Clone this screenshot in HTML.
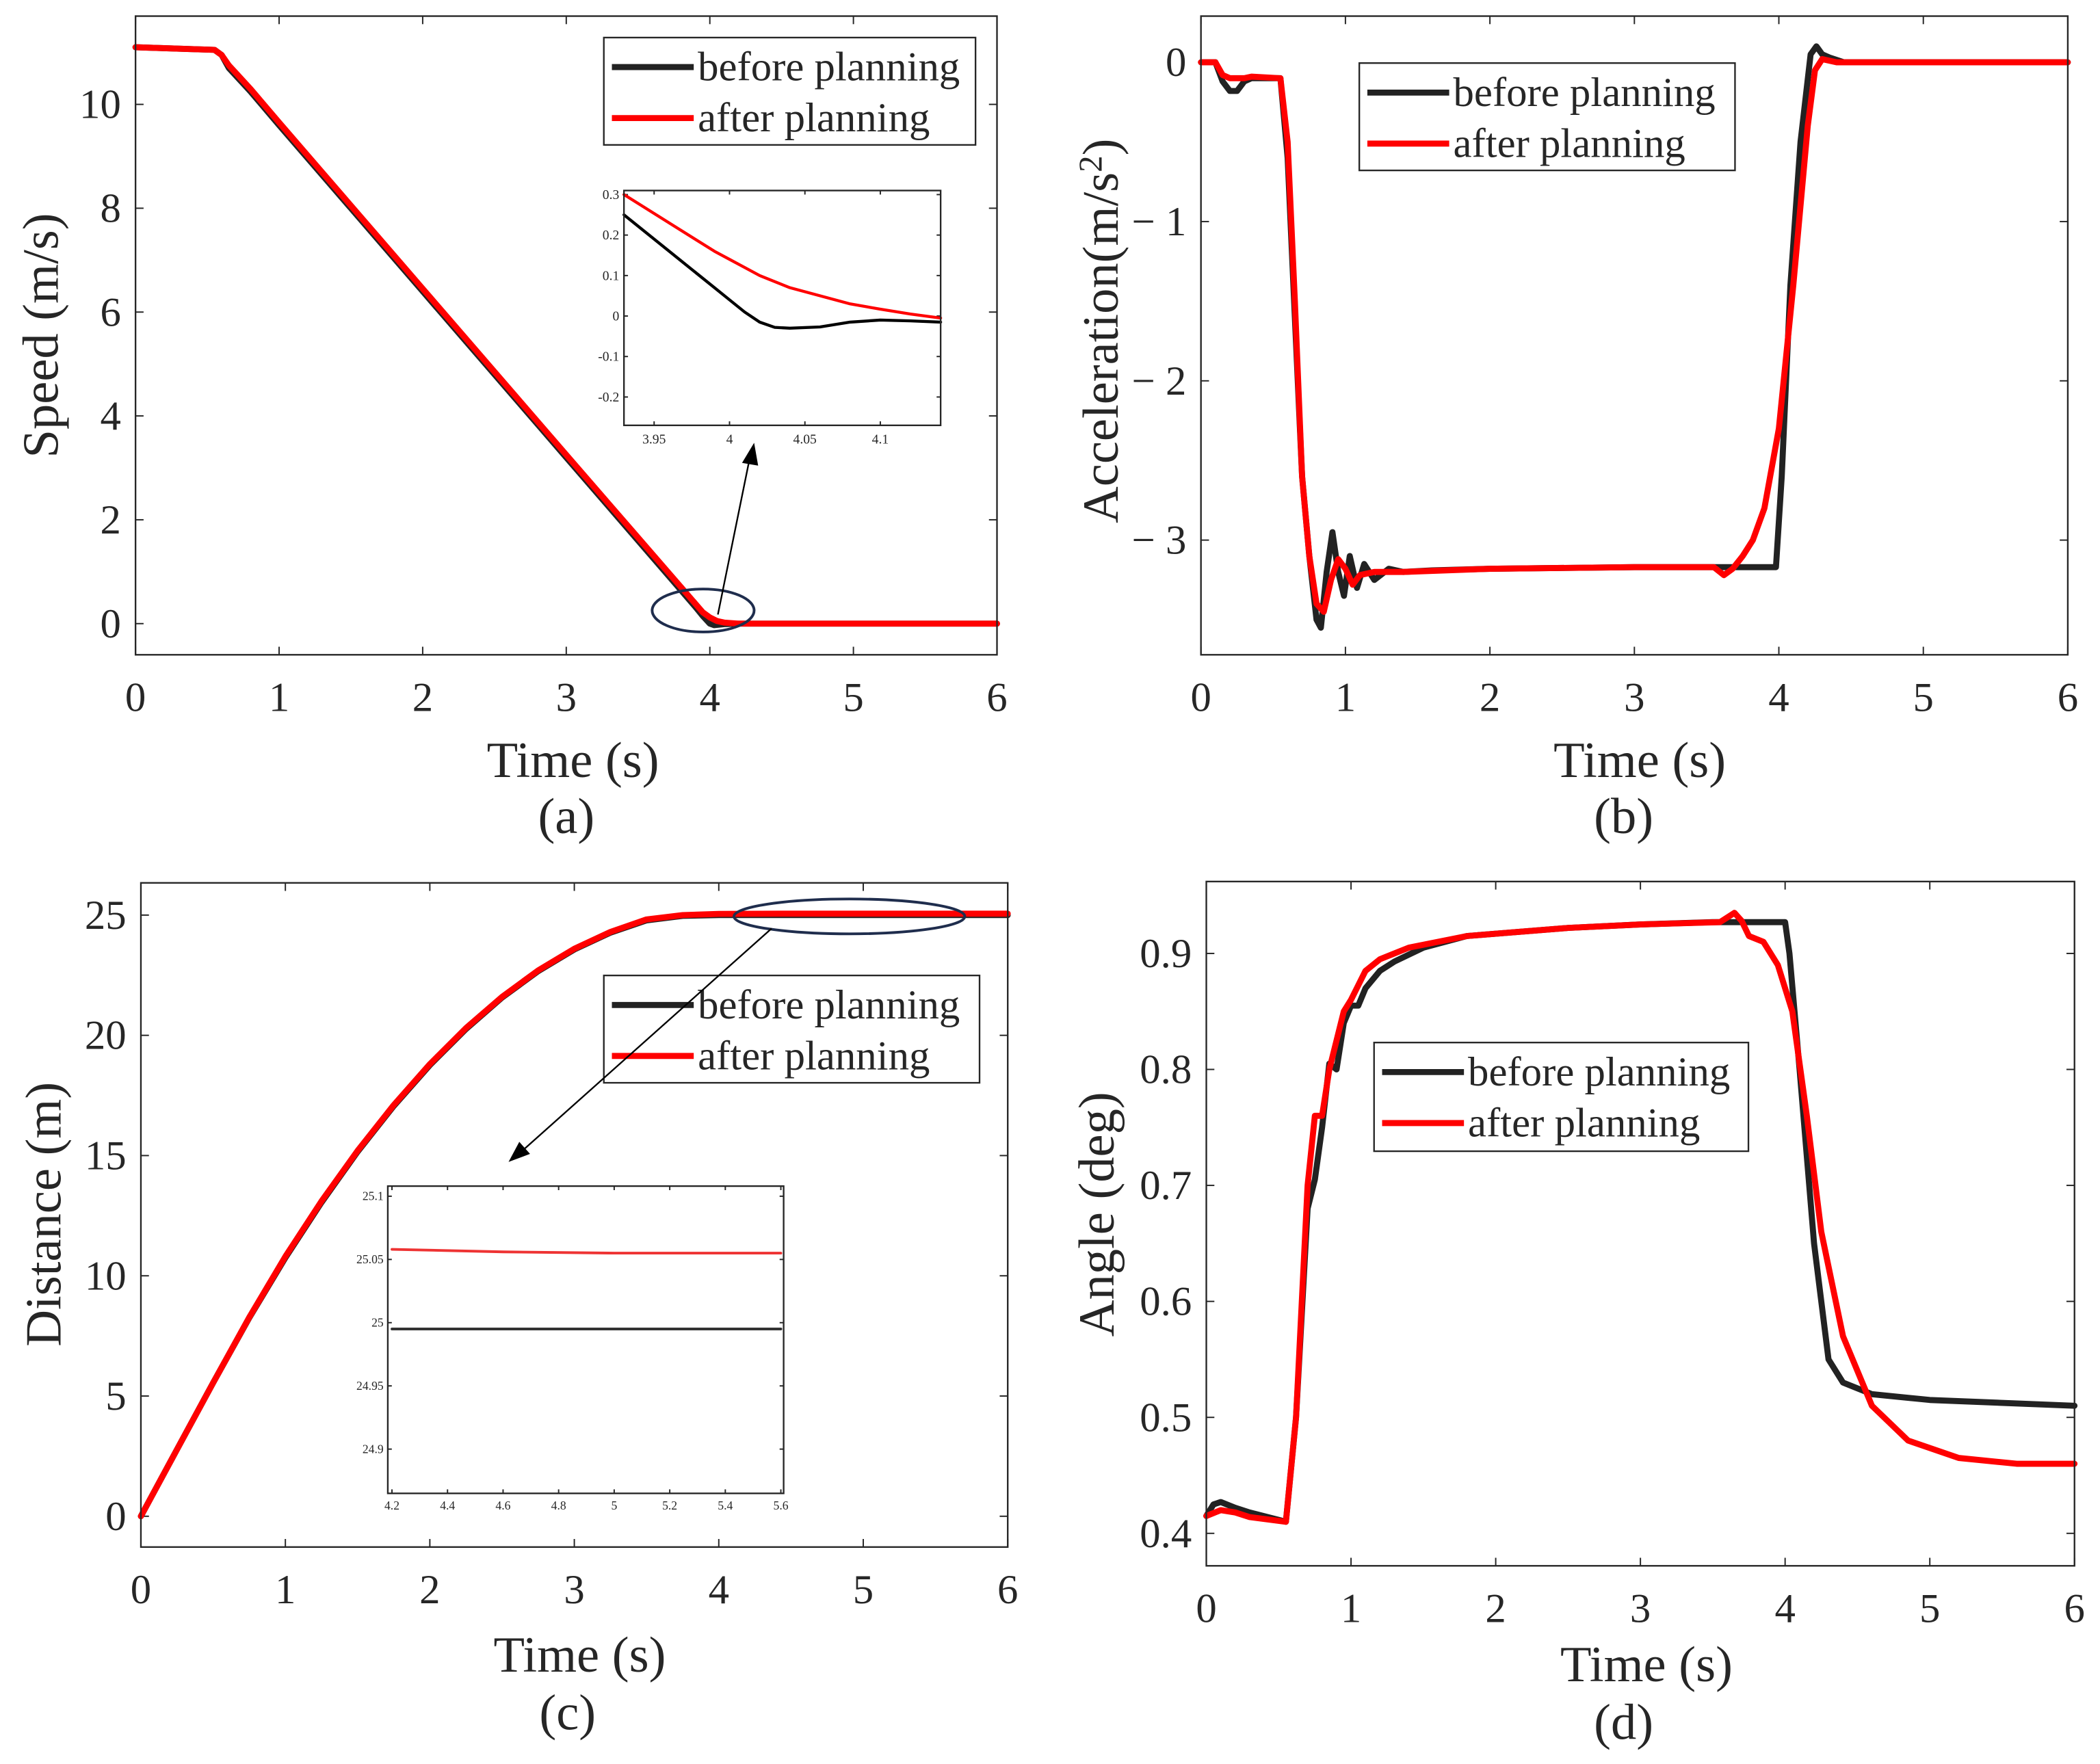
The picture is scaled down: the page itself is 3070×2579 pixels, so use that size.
<!DOCTYPE html>
<html><head><meta charset="utf-8"><style>
html,body{margin:0;padding:0;background:#fff}
svg{display:block}
text{font-family:"Liberation Serif",serif;fill:#262626}
</style></head><body>
<svg id="fig" width="3070" height="2579" viewBox="0 0 1565 1314.7" xmlns="http://www.w3.org/2000/svg"></svg>
<script>
// ---------- data ----------
const speedT = [0,0.55,0.6,0.65,0.7,0.8,1,2,3,3.8,3.9,3.95,4.0,4.03,4.1,4.2,6];
const speedBefore = [11.1,11.05,10.95,10.7,10.55,10.25,9.6,6.4,3.2,0.64,0.32,0.15,0.0,-0.03,-0.01,0,0];
const speedRedT = [0,0.55,0.6,0.65,0.7,0.8,1,2,3,3.8,3.9,3.95,4.0,4.05,4.1,4.2,6];
const speedAfter = [11.1,11.05,10.95,10.75,10.6,10.3,9.65,6.45,3.25,0.7,0.38,0.22,0.12,0.05,0.02,0,0];
const zoomAT = [3.93,3.96,3.99,4.0,4.01,4.02,4.03,4.04,4.06,4.08,4.1,4.12,4.14];
const zoomABefore = [0.25,0.16,0.07,0.04,0.01,-0.015,-0.028,-0.03,-0.027,-0.015,-0.01,-0.012,-0.015];
const zoomAAfter = [0.3,0.23,0.16,0.14,0.12,0.1,0.085,0.07,0.05,0.03,0.017,0.005,-0.005];

const accT = [0,0.1,0.15,0.2,0.25,0.3,0.35,0.55,0.6,0.65,0.7,0.75,0.8,0.83,0.87,0.91,0.95,0.99,1.03,1.08,1.13,1.2,1.3,1.4,1.6,2,3,3.98,4.02,4.08,4.15,4.22,4.26,4.3,4.35,4.45,6];
const accBefore = [0,0,-0.12,-0.18,-0.18,-0.12,-0.1,-0.1,-0.6,-1.6,-2.6,-3.1,-3.5,-3.55,-3.2,-2.95,-3.2,-3.35,-3.1,-3.3,-3.15,-3.25,-3.18,-3.2,-3.19,-3.18,-3.17,-3.17,-2.6,-1.4,-0.5,0.05,0.1,0.05,0.03,0,0];
const accRedT = [0,0.1,0.15,0.2,0.3,0.35,0.55,0.6,0.65,0.7,0.75,0.8,0.85,0.9,0.95,1.0,1.05,1.1,1.2,1.4,2,3,3.55,3.62,3.68,3.75,3.82,3.9,3.95,4.0,4.1,4.2,4.25,4.3,4.4,6];
const accAfter = [0,0,-0.08,-0.1,-0.1,-0.09,-0.1,-0.5,-1.5,-2.6,-3.1,-3.4,-3.45,-3.25,-3.12,-3.18,-3.28,-3.22,-3.2,-3.2,-3.18,-3.17,-3.17,-3.22,-3.18,-3.1,-3.0,-2.8,-2.55,-2.3,-1.4,-0.4,-0.05,0.02,0,0];

const distT = [0,0.25,0.5,0.75,1,1.25,1.5,1.75,2,2.25,2.5,2.75,3,3.25,3.5,3.75,4,4.5,6];
const distBefore = [0,2.78,5.55,8.25,10.75,13.05,15.16,17.06,18.76,20.26,21.57,22.67,23.57,24.27,24.78,24.97,25.0,25.0,25.0];
const distAfter = [0,2.78,5.55,8.27,10.8,13.1,15.2,17.1,18.8,20.3,21.6,22.7,23.6,24.3,24.82,25.0,25.05,25.06,25.06];
const zoomCT = [4.2,4.6,5.0,5.6];
const zoomCBefore = [24.995,24.995,24.995,24.995];
const zoomCAfter = [25.058,25.056,25.055,25.055];

const angT = [0,0.05,0.1,0.2,0.3,0.55,0.62,0.7,0.75,0.8,0.85,0.9,0.95,1.0,1.05,1.1,1.2,1.3,1.5,1.8,2.5,3,3.5,4.0,4.03,4.1,4.2,4.3,4.4,4.6,5,6];
const angBefore = [0.415,0.425,0.427,0.422,0.418,0.41,0.5,0.68,0.705,0.75,0.805,0.8,0.84,0.855,0.855,0.87,0.885,0.893,0.905,0.915,0.922,0.925,0.927,0.927,0.9,0.8,0.65,0.55,0.53,0.52,0.515,0.51];
const angRedT = [0,0.1,0.2,0.3,0.55,0.62,0.7,0.75,0.8,0.85,0.95,1.0,1.1,1.2,1.4,1.8,2.5,3,3.55,3.65,3.7,3.75,3.85,3.95,4.05,4.15,4.25,4.4,4.6,4.85,5.2,5.6,6];
const angAfter = [0.415,0.42,0.418,0.414,0.41,0.5,0.7,0.76,0.76,0.8,0.85,0.86,0.885,0.895,0.905,0.915,0.922,0.925,0.927,0.935,0.928,0.915,0.91,0.89,0.85,0.76,0.66,0.57,0.51,0.48,0.465,0.46,0.46];

const xTicks = [0,1,2,3,4,5,6];
const speedTicks = [0,2,4,6,8,10];
const accTicks = [0,-1,-2,-3];
const distTicks = [0,5,10,15,20,25];
const angTicks = [0.4,0.5,0.6,0.7,0.8,0.9];
const zoomAXTicks = [3.95,4,4.05,4.1];
const zoomAYTicks = [0.3,0.2,0.1,0,-0.1,-0.2];
const zoomCXTicks = [4.2,4.4,4.6,4.8,5,5.2,5.4,5.6];
const zoomCYTicks = [25.1,25.05,25,24.95,24.9];

// ---------- drawing ----------
const NS='http://www.w3.org/2000/svg';
const svg=document.getElementById('fig');
function el(tag,attrs,parent){const e=document.createElementNS(NS,tag);for(const k in attrs)e.setAttribute(k,attrs[k]);(parent||svg).appendChild(e);return e;}
function txt(s,x,y,size,anchor,parent,name,rot){const t=el('text',{x:x,y:y,'font-size':size,'text-anchor':anchor||'middle'},parent);if(rot)t.setAttribute('transform','rotate(-90 '+x+' '+y+')');t.textContent=s;


return t;}
function axes(o){
  const g=el('g',{});
  
  
  const sx=v=>o.x0+(v-o.xmin)/(o.xmax-o.xmin)*(o.x1-o.x0);
  const sy=v=>o.y1-(v-o.ymin)/(o.ymax-o.ymin)*(o.y1-o.y0);
  const fs=o.fs||31, tl=o.tl||6;
  o.xt.forEach(v=>{const x=sx(v);el('line',{x1:x,y1:o.y1,x2:x,y2:o.y1-tl,stroke:'#262626','stroke-width':1},g);el('line',{x1:x,y1:o.y0,x2:x,y2:o.y0+tl,stroke:'#262626','stroke-width':1},g);
    txt(String(v),x,o.y1+fs*1.35,fs,'middle',g,'x-tick-label');});
  o.yt.forEach(v=>{const y=sy(v);el('line',{x1:o.x0,y1:y,x2:o.x0+tl,y2:y,stroke:'#262626','stroke-width':1},g);el('line',{x1:o.x1,y1:y,x2:o.x1-tl,y2:y,stroke:'#262626','stroke-width':1},g);
    txt(o.ylab?o.ylab(v):String(v),o.x0-fs*0.35,y+fs*0.33,fs,'end',g,'y-tick-label');});
  o.series.forEach(s=>{
    const pts=s.t.map((t,i)=>sx(t).toFixed(2)+','+sy(s.v[i]).toFixed(2)).join(' ');
    const p=el('polyline',{points:pts,fill:'none',stroke:s.c,'stroke-width':s.w,'stroke-linejoin':'round','stroke-linecap':'round'},g);
    
    
  });
  el('rect',{x:o.x0,y:o.y0,width:o.x1-o.x0,height:o.y1-o.y0,fill:'none',stroke:'#262626','stroke-width':1.2},g);
  return g;
}
function legend(x,y,w,h,name){
  const g=el('g',{});
  
  
  el('rect',{x:x,y:y,width:w,height:h,fill:'#fff',stroke:'#262626','stroke-width':1.2},g);
  el('line',{x1:x+6,y1:y+22,x2:x+67,y2:y+22,stroke:'#222','stroke-width':4.5},g);
  el('line',{x1:x+6,y1:y+60,x2:x+67,y2:y+60,stroke:'#f00','stroke-width':4.5},g);
  txt('before planning',x+70,y+32,31,'start',g,'legend-before');
  txt('after planning',x+70,y+70,31,'start',g,'legend-after');
}
// (a)
axes({name:'speed-chart',x0:101,x1:743,y0:12,y1:488,xmin:0,xmax:6,ymin:-0.6,ymax:11.7,xt:xTicks,yt:speedTicks,
 series:[{t:speedT,v:speedBefore,c:'#222',w:4.5,name:'speed-before-line'},{t:speedRedT,v:speedAfter,c:'#f00',w:4.5,name:'speed-after-line'}]});
legend(450,28,277,80,'speed-legend');
el('rect',{x:465,y:142,width:236,height:175,fill:'#fff'});
axes({name:'speed-inset',x0:465,x1:701,y0:142,y1:317,xmin:3.93,xmax:4.14,ymin:-0.27,ymax:0.31,xt:zoomAXTicks,yt:zoomAYTicks,fs:10,tl:3,
 series:[{t:zoomAT,v:zoomABefore,c:'#000',w:2.2,name:'inset-before-line'},{t:zoomAT,v:zoomAAfter,c:'#f00',w:2.2,name:'inset-after-line'}]});
el('ellipse',{cx:524,cy:455,rx:38,ry:16,fill:'none',stroke:'#1f2d4d','stroke-width':2});
el('line',{x1:535,y1:458,x2:558,y2:345,stroke:'#000','stroke-width':1.2});
el('polygon',{points:'562,330 553,345 565,347',fill:'#000'});
txt('Time (s)',427,579,38,'middle',svg,'x-axis-title-a');
txt('(a)',422,621,38,'middle',svg,'panel-label-a');
txt('Speed (m/s)',43,250,38,'middle',svg,'y-axis-title-a',true);
// (b)
axes({name:'acceleration-chart',x0:895,x1:1541,y0:12,y1:488,xmin:0,xmax:6,ymin:-3.72,ymax:0.29,xt:xTicks,yt:accTicks,ylab:v=>v<0?'\u2212 '+(-v):String(v),
 series:[{t:accT,v:accBefore,c:'#222',w:4.5,name:'acc-before-line'},{t:accRedT,v:accAfter,c:'#f00',w:4.5,name:'acc-after-line'}]});
legend(1013,47,280,80,'acc-legend');
txt('Time (s)',1222,579,38,'middle',svg,'x-axis-title-b');
txt('(b)',1210,621,38,'middle',svg,'panel-label-b');
const at=txt('Acceleration(m/s',833,390,38,'start',svg,'y-axis-title-b',true);
const sup=document.createElementNS(NS,'tspan');sup.setAttribute('font-size','25');sup.setAttribute('dy','-12');sup.textContent='2';at.appendChild(sup);
const cl=document.createElementNS(NS,'tspan');cl.setAttribute('dy','12');cl.textContent=')';at.appendChild(cl);
// (c)
axes({name:'distance-chart',x0:105,x1:751,y0:658,y1:1153,xmin:0,xmax:6,ymin:-1.28,ymax:26.34,xt:xTicks,yt:distTicks,
 series:[{t:distT,v:distBefore,c:'#222',w:4.5,name:'dist-before-line'},{t:distT,v:distAfter,c:'#f00',w:4.5,name:'dist-after-line'}]});
legend(450,727,280,80,'dist-legend');
el('rect',{x:289,y:884,width:295,height:229,fill:'#fff'});
axes({name:'distance-inset',x0:289,x1:584,y0:884,y1:1113,xmin:4.185,xmax:5.61,ymin:24.865,ymax:25.108,xt:zoomCXTicks,yt:zoomCYTicks,fs:9,tl:3,
 series:[{t:zoomCT,v:zoomCBefore,c:'#333',w:2,name:'inset-c-before-line'},{t:zoomCT,v:zoomCAfter,c:'#e33',w:2,name:'inset-c-after-line'}]});
el('ellipse',{cx:633,cy:683,rx:86,ry:13,fill:'none',stroke:'#1f2d4d','stroke-width':2});
el('line',{x1:575,y1:692,x2:390,y2:857,stroke:'#000','stroke-width':1.2});
el('polygon',{points:'379,866 387,851 395,860',fill:'#000'});
txt('Time (s)',432,1246,38,'middle',svg,'x-axis-title-c');
txt('(c)',423,1289,38,'middle',svg,'panel-label-c');
txt('Distance (m)',45,905,38,'middle',svg,'y-axis-title-c',true);
// (d)
axes({name:'angle-chart',x0:899,x1:1546,y0:657,y1:1167,xmin:0,xmax:6,ymin:0.372,ymax:0.962,xt:xTicks,yt:angTicks,
 series:[{t:angT,v:angBefore,c:'#222',w:4.5,name:'angle-before-line'},{t:angRedT,v:angAfter,c:'#f00',w:4.5,name:'angle-after-line'}]});
legend(1024,777,279,81,'angle-legend');
txt('Time (s)',1227,1253,38,'middle',svg,'x-axis-title-d');
txt('(d)',1210,1296,38,'middle',svg,'panel-label-d');
txt('Angle (deg)',830,905,38,'middle',svg,'y-axis-title-d',true);
</script>
</body></html>
